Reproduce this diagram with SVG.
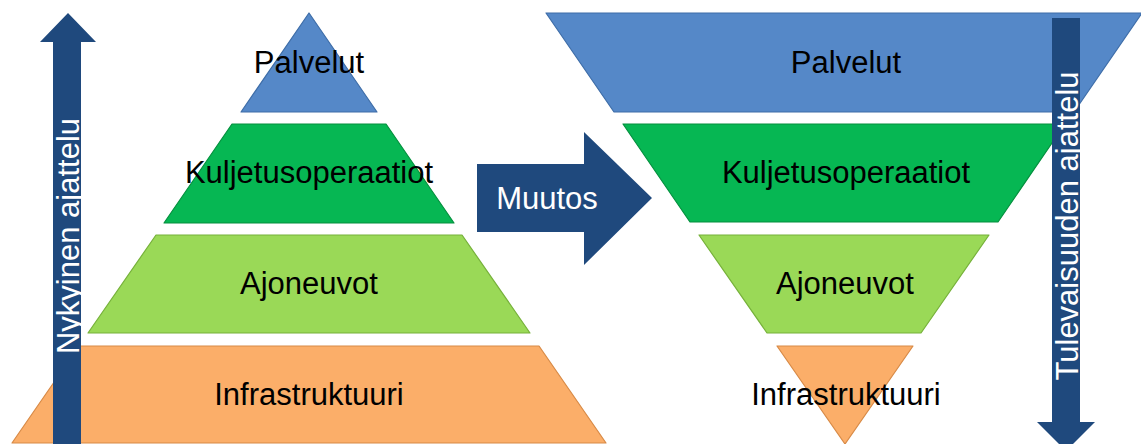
<svg xmlns="http://www.w3.org/2000/svg" width="1141" height="444" viewBox="0 0 1141 444">
  <style>
    .tier { stroke-width: 1.2; stroke-linejoin: round; }
    .blue { fill: #5588C8; stroke: #3E6DA8; }
    .green { fill: #06B753; stroke: #04903E; }
    .lime { fill: #9AD957; stroke: #76B13A; }
    .orange { fill: #FBAE69; stroke: #D88A46; }
    .label { font-family: "Liberation Sans", Arial, sans-serif; font-size: 31px; fill: #000; text-anchor: middle; }
    .arrow { fill: #1F497D; }
    .arrow-label { font-family: "Liberation Sans", Arial, sans-serif; font-size: 31px; fill: #FFFFFF; text-anchor: middle; }
  </style>

  <!-- Left: classic pyramid, services on top -->
  <g id="left-palvelut">
    <polygon class="tier blue" points="309,13 377,112 241,112"/>
    <text class="label" x="309" y="73">Palvelut</text>
  </g>
  <g id="left-kuljetusoperaatiot">
    <polygon class="tier green" points="232,124 386,124 454,223 164,223"/>
    <text class="label" x="309" y="183">Kuljetusoperaatiot</text>
  </g>
  <g id="left-ajoneuvot">
    <polygon class="tier lime" points="156,235 462,235 530,333 88,333"/>
    <text class="label" x="309" y="294">Ajoneuvot</text>
  </g>
  <g id="left-infrastruktuuri">
    <polygon class="tier orange" points="79,346 539,346 606,443 12,443"/>
    <text class="label" x="309" y="405">Infrastruktuuri</text>
  </g>

  <!-- Right: inverted pyramid, services widest -->
  <g id="right-palvelut">
    <polygon class="tier blue" points="546,13 1142,13 1074,112 614,112"/>
    <text class="label" x="846" y="73">Palvelut</text>
  </g>
  <g id="right-kuljetusoperaatiot">
    <polygon class="tier green" points="623,124 1065,124 998,222 690,222"/>
    <text class="label" x="846" y="183">Kuljetusoperaatiot</text>
  </g>
  <g id="right-ajoneuvot">
    <polygon class="tier lime" points="699,235 989,235 921,333 767,333"/>
    <text class="label" x="845" y="294">Ajoneuvot</text>
  </g>
  <g id="right-infrastruktuuri">
    <polygon class="tier orange" points="777,346 913,346 845,444"/>
    <text class="label" x="846" y="405">Infrastruktuuri</text>
  </g>

  <!-- Block arrows -->
  <g id="connectors">
    <g id="arrow-nykyinen">
      <polygon class="arrow" points="53,450 53,42 40,42 68,13 96,42 81,42 81,450"/>
      <text class="arrow-label" transform="translate(79,236) rotate(-90)">Nykyinen ajattelu</text>
    </g>
    <g id="arrow-muutos">
      <polygon class="arrow" points="477,164 584,164 584,132 652,198 584,265 584,232 477,232"/>
      <text class="arrow-label" x="547" y="209">Muutos</text>
    </g>
    <g id="arrow-tulevaisuus">
      <polygon class="arrow" points="1052,18 1080,18 1080,422 1095,422 1066,451 1037,422 1052,422"/>
      <text class="arrow-label" transform="translate(1078,226) rotate(-90)">Tulevaisuuden ajattelu</text>
    </g>
  </g>
</svg>
